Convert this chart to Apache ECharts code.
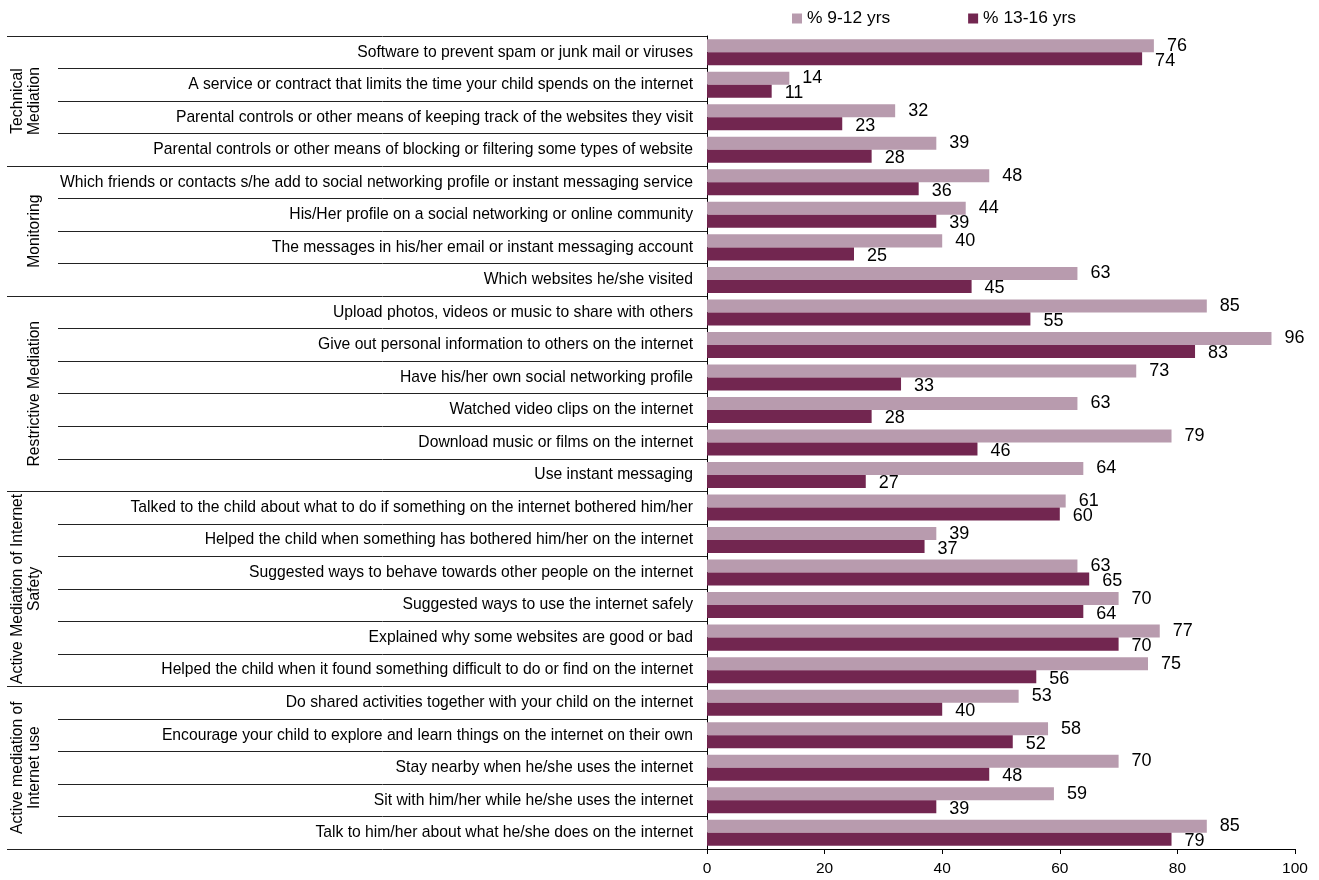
<!DOCTYPE html>
<html>
<head>
<meta charset="utf-8">
<script src="https://cdn.jsdelivr.net/npm/echarts@6/dist/echarts.min.js"></script>
<style>
html,body{margin:0;padding:0;background:#fff;}
#c{width:1319px;height:880px;}
</style>
</head>
<body>
<div id="c"></div>
<script>
const categories = [
  "Software to prevent spam or junk mail or viruses",
  "A service or contract that limits the time your child spends on the internet",
  "Parental controls or other means of keeping track of the websites they visit",
  "Parental controls or other means of blocking or filtering some types of website",
  "Which friends or contacts s/he add to social networking profile or instant messaging service",
  "His/Her profile on a social networking or online community",
  "The messages in his/her email or instant messaging account",
  "Which websites he/she visited",
  "Upload photos, videos or music to share with others",
  "Give out personal information to others on the internet",
  "Have his/her own social networking profile",
  "Watched video clips on the internet",
  "Download music or films on the internet",
  "Use instant messaging",
  "Talked to the child about what to do if something on the internet bothered him/her",
  "Helped the child when something has bothered him/her on the internet",
  "Suggested ways to behave towards other people on the internet",
  "Suggested ways to use the internet safely",
  "Explained why some websites are good or bad",
  "Helped the child when it found something difficult to do or find on the internet",
  "Do shared activities together with your child on the internet",
  "Encourage your child to explore and learn things on the internet on their own",
  "Stay nearby when he/she uses the internet",
  "Sit with him/her while he/she uses the internet",
  "Talk to him/her about what he/she does on the internet"
];
const age9to12 = [76,14,32,39,48,44,40,63,85,96,73,63,79,64,61,39,63,70,77,75,53,58,70,59,85];
const age13to16 = [74,11,23,28,36,39,25,45,55,83,33,28,46,27,60,37,65,64,70,56,40,52,48,39,79];
const seriesNames = ["% 9-12 yrs", "% 13-16 yrs"];
const groups = [
  {lines:["Technical","Mediation"], start:0, end:4},
  {lines:["Monitoring"], start:4, end:8},
  {lines:["Restrictive Mediation"], start:8, end:14},
  {lines:["Active Mediation of Internet","Safety"], start:14, end:20},
  {lines:["Active mediation of","Internet use"], start:20, end:25}
];
const xTicks = [0,20,40,60,80,100];

const FONT = "Arial, 'Liberation Sans', sans-serif";
const chart = echarts.init(document.getElementById('c'));
const option = {
  animation:false,
  textStyle:{fontFamily:FONT},
  legend:{
    top:10, left:792, itemWidth:10, itemHeight:10, itemGap:78,
    icon:'rect', padding:0,
    textStyle:{fontSize:17.4, color:'#000', fontFamily:FONT},
    data:seriesNames
  },
  grid:{left:707, right:24, top:36, bottom:31, containLabel:false},
  xAxis:{
    type:'value', min:0, max:100, interval:20,
    axisLine:{show:true, lineStyle:{color:'#000', width:1}},
    axisTick:{show:true, length:5, lineStyle:{color:'#000'}},
    axisLabel:{fontSize:15.5, color:'#000', margin:12, fontFamily:FONT,
      formatter:function(v){return xTicks.indexOf(v)>=0 ? String(v) : '';}},
    splitLine:{show:false}
  },
  yAxis:{
    type:'category', inverse:true, data:categories,
    axisLine:{show:true, lineStyle:{color:'#000', width:1}},
    axisTick:{show:true, length:649, lineStyle:{color:'#222', width:1}},
    axisLabel:{fontSize:15.7, color:'#000', margin:14, fontFamily:FONT, interval:0}
  },
  series:[
    {name:seriesNames[0], type:'bar', data:age9to12, barGap:'0%', barCategoryGap:'20%',
     itemStyle:{color:'#B89BAE'},
     label:{show:true, position:'right', distance:13, offset:[0,0], fontSize:18, color:'#000', fontFamily:FONT}},
    {name:seriesNames[1], type:'bar', data:age13to16, barGap:'0%', barCategoryGap:'20%',
     itemStyle:{color:'#722650'},
     label:{show:true, position:'right', distance:13, offset:[0,2], fontSize:18, color:'#000', fontFamily:FONT}}
  ]
};
chart.setOption(option);

// group labels and long separators
const elements = [];
function boundaryY(i){
  const a = chart.convertToPixel({yAxisIndex:0}, 0);
  const b = chart.convertToPixel({yAxisIndex:0}, 1);
  const h = b - a;
  return a - h/2 + i*h;
}
const axisX = chart.convertToPixel({xAxisIndex:0}, 0);
groups.forEach(function(g, gi){
  const y0 = boundaryY(g.start), y1 = boundaryY(g.end);
  const mid = (y0 + y1)/2;
  const n = g.lines.length;
  g.lines.forEach(function(t, li){
    const x = 35 - (n-1-li)*17;
    elements.push({type:'text', x:x, y:mid, rotation:Math.PI/2,
      style:{text:t, fontSize:15.7, fontFamily:FONT, fill:'#000', textAlign:'center', textVerticalAlign:'middle'}});
  });
  if (gi === 0) {
    elements.push({type:'line', shape:{x1:7, y1:Math.round(y0)+0.5, x2:axisX-649, y2:Math.round(y0)+0.5}, style:{stroke:'#222', lineWidth:1}});
  }
  elements.push({type:'line', shape:{x1:7, y1:Math.round(y1)+0.5, x2:axisX-649, y2:Math.round(y1)+0.5}, style:{stroke:'#222', lineWidth:1}});
});
chart.setOption({graphic:{elements:elements}});
</script>
</body>
</html>
